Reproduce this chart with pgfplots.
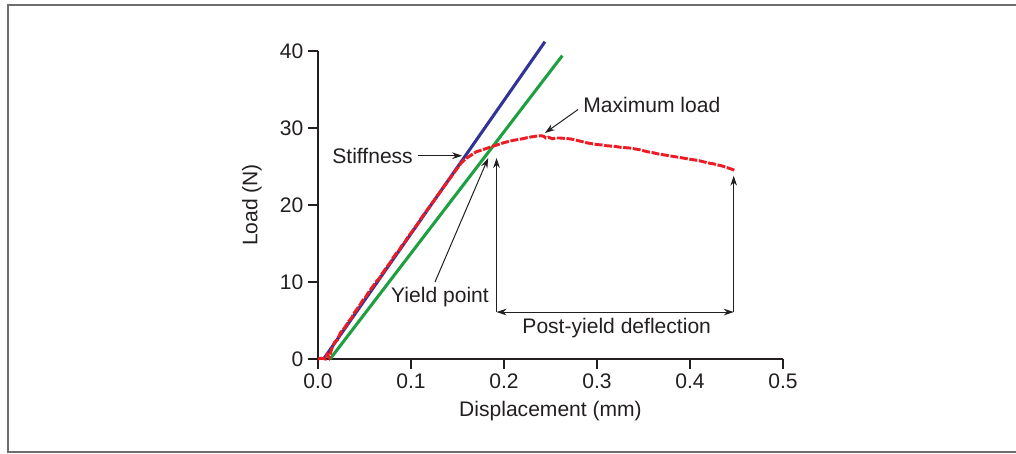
\documentclass[border=0pt]{standalone}
\usepackage{fontspec}
\setmainfont{Liberation Sans}
\usepackage{pgfplots}
\pgfplotsset{compat=1.18}
\usetikzlibrary{arrows.meta}

\definecolor{txt}{RGB}{35,31,32}
\definecolor{stiffblue}{RGB}{48,52,150}
\definecolor{offgreen}{RGB}{30,160,65}
\definecolor{curvered}{RGB}{237,28,36}
\definecolor{framegray}{RGB}{110,110,110}

\begin{document}
\begin{tikzpicture}[font=\fontsize{15.8}{19}\selectfont, >={Stealth[length=7.5pt,width=5pt]}]
\begin{axis}[
    at={(0,0)}, anchor=south west,
    scale only axis,
    width=348.75pt, height=231pt,
    xmin=0, xmax=0.5,
    ymin=0, ymax=40,
    axis lines*=left,
    axis line style={line width=0.9pt, txt},
    tick align=outside,
    major tick length=7.5pt,
    tick style={line width=0.9pt, txt},
    xtick={0,0.1,0.2,0.3,0.4,0.5},
    ytick={0,10,20,30,40},
    xticklabel style={/pgf/number format/.cd, fixed, fixed zerofill, precision=1},
    /pgf/number format/assume math mode=true,
    tick label style={font=\fontsize{15.8}{19}\selectfont, text=txt},
    label style={font=\fontsize{15.8}{19}\selectfont, text=txt},
    xlabel={Displacement (mm)},
    ylabel={Load (N)},
    xlabel style={at={(axis description cs:0.5,-0.169)}, anchor=center},
    ylabel style={at={(axis description cs:-0.142,0.5)}, anchor=center},
    clip=false,
]
% stiffness line
\addplot[stiffblue, line width=2.3pt] coordinates {(0.006,0) (0.244,41.2)};
% offset line
\addplot[offgreen, line width=2.3pt] coordinates {(0.013,0) (0.2627,39.4)};
% measured curve
\addplot[curvered, line width=2.2pt, dash pattern=on 6pt off 1.2pt] coordinates {
(0.000,0.0) (0.004,0.1) (0.008,0.0) (0.010,0.6) (0.012,0.2) (0.015,1.4)
(0.018,2.2) (0.021,2.5) (0.024,3.4) (0.027,3.8) (0.030,4.3) (0.033,4.9)
(0.036,5.3) (0.039,6.0) (0.042,6.5) (0.045,7.0) (0.048,7.6) (0.051,8.0)
(0.054,8.6) (0.057,9.1) (0.060,9.6) (0.063,10.1) (0.066,10.5) (0.069,11.1)
(0.072,11.6) (0.075,12.1) (0.078,12.6) (0.081,13.2) (0.084,13.7) (0.087,14.1)
(0.090,14.7) (0.093,15.1) (0.096,15.7) (0.099,16.2) (0.102,16.7) (0.105,17.2)
(0.108,17.7) (0.111,18.3) (0.114,18.8) (0.117,19.3) (0.120,19.8) (0.123,20.3)
(0.126,20.8) (0.129,21.3) (0.132,21.8) (0.135,22.3) (0.138,22.8) (0.141,23.3)
(0.144,23.8) (0.147,24.3) (0.150,24.8) (0.153,25.3) (0.156,25.7) (0.160,26.1)
(0.165,26.5) (0.170,26.9) (0.175,27.1) (0.180,27.3) (0.185,27.5) (0.190,27.7)
(0.195,27.9) (0.200,28.1) (0.205,28.25) (0.210,28.4) (0.215,28.5) (0.220,28.6)
(0.225,28.75) (0.230,28.85) (0.235,28.95) (0.240,29.0) (0.243,28.9) (0.245,28.7)
(0.248,28.8) (0.252,28.6) (0.256,28.7) (0.260,28.7) (0.265,28.65) (0.270,28.6)
(0.275,28.5) (0.280,28.35) (0.285,28.2) (0.290,28.05) (0.295,27.95) (0.300,27.85)
(0.305,27.8) (0.310,27.7) (0.315,27.65) (0.320,27.6) (0.325,27.5) (0.330,27.45)
(0.335,27.4) (0.340,27.3) (0.345,27.2) (0.350,27.05) (0.355,26.9) (0.360,26.8)
(0.365,26.65) (0.370,26.55) (0.375,26.45) (0.380,26.35) (0.385,26.25) (0.390,26.15)
(0.395,26.05) (0.400,25.95) (0.405,25.85) (0.410,25.75) (0.415,25.6) (0.420,25.45)
(0.425,25.35) (0.430,25.2) (0.435,25.05) (0.440,24.85) (0.445,24.65) (0.448,24.5)
};

% annotations
\draw[->, line width=0.75pt, txt] (axis cs:0.1075,26.4) -- (axis cs:0.155,26.4);
\node[anchor=east, inner sep=0pt, text=txt] at (axis cs:0.1022,26.4) {Stiffness};

\draw[->, line width=0.75pt, txt] (axis cs:0.2796,32.4) -- (axis cs:0.244,29.35);
\node[anchor=west, inner sep=0pt, text=txt] at (axis cs:0.285,33.0) {Maximum load};

\draw[->, line width=0.75pt, txt] (axis cs:0.1258,10.0) -- (axis cs:0.183,26.1);
\node[inner sep=0pt, text=txt] at (axis cs:0.1312,8.1) {Yield point};

\draw[->, line width=0.75pt, txt] (axis cs:0.192,6.1) -- (axis cs:0.192,26.1);
\draw[->, line width=0.75pt, txt] (axis cs:0.447,6.1) -- (axis cs:0.447,23.8);
\draw[<->, line width=0.75pt, txt] (axis cs:0.192,6.1) -- (axis cs:0.447,6.1);
\node[inner sep=0pt, text=txt] at (axis cs:0.3212,4.0) {Post-yield deflection};
\end{axis}

% outer frame (open on the right)
\draw[framegray, line width=1.3pt] (523.5pt,265.5pt) -- (-232.5pt,265.5pt) -- (-232.5pt,-69.6pt) -- (523.5pt,-69.6pt);

\pgfresetboundingbox
\path[use as bounding box] (-238.5pt,-70.5pt) rectangle (523.5pt,269.25pt);
\end{tikzpicture}
\end{document}
